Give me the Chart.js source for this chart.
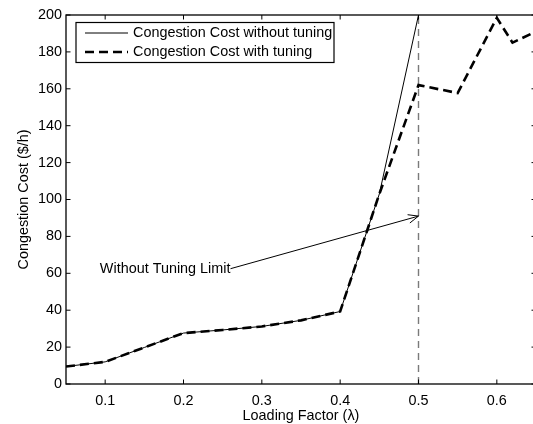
<!DOCTYPE html>
<html>
<head>
<meta charset="utf-8">
<script src="https://cdn.jsdelivr.net/npm/chart.js@4"></script>
<style>
  html, body { margin: 0; padding: 0; background: #fff; overflow: hidden; }
  #wrap { width: 540px; height: 424px; position: relative; }
</style>
</head>
<body>
<div id="wrap"><canvas id="cost-chart"></canvas></div>
<script>
// loading factor values and costs
const loadWithout = [0.05, 0.1, 0.15, 0.2, 0.25, 0.3, 0.35, 0.4, 0.45, 0.5];
const costWithout = [9.5, 12, 19.8, 27.6, 29.3, 31.2, 34.5, 39.3, 103, 200];
const loadWith = [0.05, 0.1, 0.15, 0.2, 0.25, 0.3, 0.35, 0.4, 0.45, 0.5, 0.55, 0.6, 0.62, 0.65];
const costWith = [9.5, 12, 19.8, 27.6, 29.3, 31.2, 34.5, 39.3, 103, 162, 157.7, 198.5, 185, 191];
const limitLoad = [0.5, 0.5];
const limitCost = [0, 200];
const xTicks = [0.1, 0.2, 0.3, 0.4, 0.5, 0.6];
const yTicks = [0, 20, 40, 60, 80, 100, 120, 140, 160, 180, 200];
// annotation: text anchor and arrow tip (data units)
const noteText = 'Without Tuning Limit';
const noteFrom = [0.26, 62.5];
const noteTo = [0.5, 91];

const FONT = 'Liberation Sans, Arial, Helvetica, sans-serif';
const FS = 14.4;

function pts(xs, ys) {
    return xs.map((x, i) => ({ x: x, y: ys[i] }));
}

// MATLAB-like box with inward ticks, legend and arrow note
const matlabBits = {
    id: 'matlabBits',
    afterDraw(chart) {
        const ctx = chart.ctx;
        const a = chart.chartArea;
        const xs = chart.scales.x, ys = chart.scales.y;
        ctx.save();
        ctx.strokeStyle = '#000';
        ctx.lineWidth = 1.3;
        ctx.setLineDash([]);
        ctx.strokeRect(a.left, a.top, a.right - a.left, a.bottom - a.top);
        const tl = 4.5;
        ctx.lineWidth = 1;
        ctx.beginPath();
        xTicks.forEach(v => {
            const px = xs.getPixelForValue(v);
            ctx.moveTo(px, a.bottom); ctx.lineTo(px, a.bottom - tl);
            ctx.moveTo(px, a.top); ctx.lineTo(px, a.top + tl);
        });
        yTicks.forEach(v => {
            const py = ys.getPixelForValue(v);
            ctx.moveTo(a.left, py); ctx.lineTo(a.left + tl, py);
            ctx.moveTo(a.right, py); ctx.lineTo(a.right - tl, py);
        });
        ctx.stroke();

        // annotation
        const x0 = xs.getPixelForValue(noteFrom[0]), y0 = ys.getPixelForValue(noteFrom[1]);
        const x1 = xs.getPixelForValue(noteTo[0]), y1 = ys.getPixelForValue(noteTo[1]);
        ctx.beginPath();
        ctx.moveTo(x0, y0); ctx.lineTo(x1, y1);
        const ang = Math.atan2(y1 - y0, x1 - x0);
        const hl = 11, hw = 0.4;
        ctx.moveTo(x1 - hl * Math.cos(ang - hw), y1 - hl * Math.sin(ang - hw));
        ctx.lineTo(x1, y1);
        ctx.lineTo(x1 - hl * Math.cos(ang + hw), y1 - hl * Math.sin(ang + hw));
        ctx.stroke();
        ctx.fillStyle = '#000';
        ctx.font = FS + 'px ' + FONT;
        ctx.textAlign = 'right';
        ctx.textBaseline = 'middle';
        ctx.fillText(noteText, x0, y0);

        // legend
        const lx = 76, ly = 22.5, lw = 258, lh = 40;
        ctx.fillStyle = '#fff';
        ctx.fillRect(lx, ly, lw, lh);
        ctx.lineWidth = 1.2;
        ctx.strokeRect(lx, ly, lw, lh);
        const rows = [chart.data.datasets[0], chart.data.datasets[1]];
        rows.forEach((ds, i) => {
            const ry = 33 + i * 19;
            ctx.beginPath();
            ctx.lineWidth = ds.borderWidth;
            ctx.setLineDash(ds.borderDash || []);
            ctx.moveTo(85, ry); ctx.lineTo(128, ry);
            ctx.stroke();
            ctx.setLineDash([]);
            ctx.fillStyle = '#000';
            ctx.textAlign = 'left';
            ctx.fillText(ds.label, 133, ry);
        });
        ctx.restore();
    }
};

new Chart(document.getElementById('cost-chart'), {
    type: 'line',
    data: {
        datasets: [
            {
                label: 'Congestion Cost without tuning',
                data: pts(loadWithout, costWithout),
                borderColor: '#000',
                borderWidth: 1,
                pointRadius: 0,
                tension: 0
            },
            {
                label: 'Congestion Cost with tuning',
                data: pts(loadWith, costWith),
                borderColor: '#000',
                borderWidth: 2.6,
                borderDash: [9, 5],
                pointRadius: 0,
                tension: 0
            },
            {
                label: 'limit',
                data: pts(limitLoad, limitCost),
                borderColor: '#7a7a7a',
                borderWidth: 1.4,
                borderDash: [7, 5],
                pointRadius: 0
            }
        ]
    },
    options: {
        responsive: true,
        maintainAspectRatio: false,
        animation: false,
        layout: { padding: { top: 15, right: 4, left: 0, bottom: 0 } },
        plugins: {
            legend: { display: false },
            tooltip: { enabled: false }
        },
        scales: {
            x: {
                type: 'linear',
                min: 0.05,
                max: 0.65,
                afterBuildTicks: s => { s.ticks = xTicks.map(v => ({ value: v })); },
                afterFit: s => { s.height = 40; },
                grid: { display: false, drawTicks: false },
                border: { display: false },
                ticks: {
                    padding: 8,
                    color: '#000',
                    font: { family: FONT, size: FS },
                    callback: v => v.toFixed(1)
                },
                title: {
                    display: true,
                    text: 'Loading Factor (λ)',
                    color: '#000',
                    font: { family: FONT, size: FS },
                    padding: { top: 0, bottom: -1 }
                }
            },
            y: {
                min: 0,
                max: 200,
                afterBuildTicks: s => { s.ticks = yTicks.map(v => ({ value: v })); },
                afterFit: s => { s.width = 66; },
                grid: { display: false, drawTicks: false },
                border: { display: false },
                ticks: {
                    padding: 4,
                    color: '#000',
                    font: { family: FONT, size: FS },
                    callback: v => String(v)
                },
                title: {
                    display: true,
                    text: 'Congestion Cost ($/h)',
                    color: '#000',
                    font: { family: FONT, size: FS },
                    padding: { top: 15, bottom: 0 }
                }
            }
        }
    },
    plugins: [matlabBits]
});
</script>
</body>
</html>
